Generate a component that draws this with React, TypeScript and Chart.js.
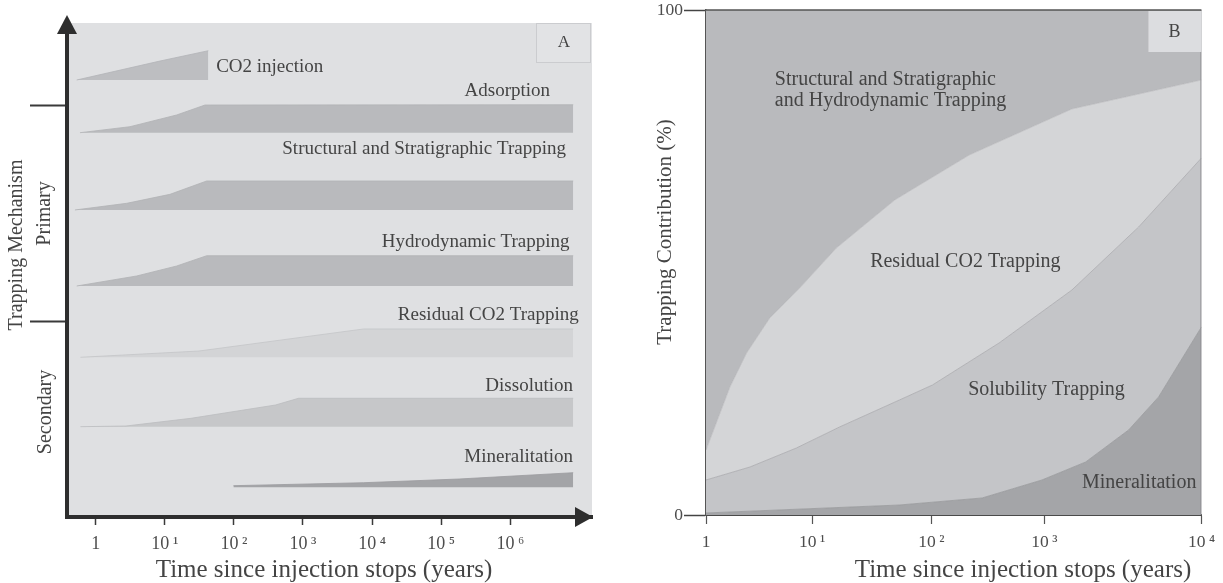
import { useEffect, useRef } from 'react';
import { Chart, registerables, LinearScale } from 'chart.js';

Chart.register(...registerables);

// ---------------- Panel A : trapping mechanisms through time ----------------
// x values are log10(years), y values are the vertical position (0-100) of each band
const A_DECADE_TICKS = [0, 1, 2, 3, 4, 5, 6];
const A_TICK_LABELS = ['1', '10\u2009\u00b9', '10\u2009\u00b2', '10\u2009\u00b3', '10\u2009\u2074', '10\u2009\u2075', '10\u2009\u2076'];
const A_SECTION_TICKS = [83.4, 39.5];

const CO2_X = [-0.275, 0.93, 1.63];
const CO2_Y = [88.46, 92.3, 94.39];
const CO2_BASE = 88.46;

const ADS_X = [-0.227, 0.496, 1.172, 1.582, 6.91];
const ADS_Y = [77.79, 79.01, 81.38, 83.4, 83.45];
const ADS_BASE = 77.79;

const STRUCT_X = [-0.3, 0.449, 1.075, 1.606, 6.91];
const STRUCT_Y = [62.15, 63.5, 65.32, 68.02, 68.02];
const STRUCT_BASE = 62.15;

const HYDRO_X = [-0.275, 0.593, 1.172, 1.606, 6.91];
const HYDRO_Y = [46.76, 48.79, 50.81, 52.89, 52.89];
const HYDRO_BASE = 46.76;

const RESID_X = [-0.221, 1.495, 3.043, 3.877, 6.91];
const RESID_Y = [32.33, 33.6, 36.5, 38.06, 38.06];
const RESID_BASE = 32.33;

const DISS_X = [-0.221, 0.438, 1.379, 2.602, 2.935, 6.91];
const DISS_Y = [18.28, 18.42, 19.98, 22.67, 24.03, 24.03];
const DISS_BASE = 18.28;

const MINA_X = [1.993, 3.877, 5.258, 6.91];
const MINA_Y = [6.34, 6.94, 7.69, 8.97];
const MINA_BASE = 6.01;

const A_X_MIN = -0.415;
const A_X_MAX = 7.182;

// ---------------- Panel B : trapping contribution (%) ----------------
const B_DECADES = [0, 1, 2, 3, 4];
const B_TICK_LABELS = ['1', '10\u2009\u00b9', '10\u2009\u00b2', '10\u2009\u00b3', '10\u2009\u2074'];
const B_Y_TICKS = [0, 100];
// relative spacing of the decades along the source's (non-uniform) time axis
const B_DECADE_FRACTION = [0, 0.214, 0.455, 0.683, 1];

const MINERAL_TOP_X = [0, 1.732, 2.449, 2.978, 3.263, 3.536, 3.727, 4];
const MINERAL_TOP_Y = [0.4, 1.98, 3.37, 6.93, 10.5, 16.83, 23.37, 37.23];

const SOLUBILITY_TOP_X = [0, 0.414, 0.853, 1.231, 1.732, 2.009, 2.599, 3.175, 3.6, 4];
const SOLUBILITY_TOP_Y = [6.93, 9.5, 13.27, 17.43, 22.77, 25.74, 34.06, 44.55, 57.03, 70.69];

const RESIDUAL_TOP_X = [0, 0.226, 0.383, 0.602, 0.884, 1.204, 1.693, 2.335, 3.175, 4];
const RESIDUAL_TOP_Y = [12.87, 25.35, 32.08, 39.01, 44.95, 52.87, 62.38, 71.29, 80.4, 86.14];

const STRUCTURAL_TOP_X = [0, 4];
const STRUCTURAL_TOP_Y = [100, 100];

// ---------------- annotations ----------------
const A_LABELS = [
  { text: 'CO2 injection', x: 1.743, y: 91.16, align: 'left' },
  { text: 'Adsorption', x: 6.575, y: 86.23, align: 'right' },
  { text: 'Structural and Stratigraphic Trapping', x: 6.806, y: 74.49, align: 'right' },
  { text: 'Hydrodynamic Trapping', x: 6.857, y: 55.67, align: 'right' },
  { text: 'Residual CO2 Trapping', x: 6.99, y: 40.89, align: 'right' },
  { text: 'Dissolution', x: 6.907, y: 26.52, align: 'right' },
  { text: 'Mineralitation', x: 6.907, y: 12.2, align: 'right' },
];
const B_LABELS = [
  { text: 'Structural and Stratigraphic', x: 0.649, y: 86.14, align: 'left' },
  { text: 'and Hydrodynamic Trapping', x: 0.649, y: 81.98, align: 'left' },
  { text: 'Residual CO2 Trapping', x: 2.3, y: 50.1, align: 'center' },
  { text: 'Solubility Trapping', x: 3.013, y: 24.75, align: 'center' },
  { text: 'Mineralitation', x: 3.968, y: 6.34, align: 'right' },
];

const FONT = "'Liberation Serif', 'Times New Roman', 'DejaVu Serif', serif";
const TEXT = '#444444';
const AXIS = '#2e2e2e';
const A_BG = '#dfe0e2';

const pts = (xs: number[], ys: number[]) => xs.map((x, i) => ({ x, y: ys[i] }));

function drawText(ctx: CanvasRenderingContext2D, text: string, x: number, y: number, size: number, align: CanvasTextAlign = 'center', rotate = 0) {
  ctx.save();
  ctx.translate(x, y);
  if (rotate) ctx.rotate(rotate);
  ctx.font = `${size}px ${FONT}`;
  ctx.fillStyle = TEXT;
  ctx.textAlign = align;
  ctx.textBaseline = 'middle';
  ctx.fillText(text, 0, 0);
  ctx.restore();
}

function tri(ctx: CanvasRenderingContext2D, p: number[][]) {
  ctx.beginPath();
  ctx.moveTo(p[0][0], p[0][1]);
  ctx.lineTo(p[1][0], p[1][1]);
  ctx.lineTo(p[2][0], p[2][1]);
  ctx.closePath();
  ctx.fill();
}

// piecewise-decade scale for panel B
function decadeToFraction(v: number): number {
  const f = B_DECADE_FRACTION;
  const n = f.length - 1;
  if (v <= 0) return v * f[1];
  if (v >= n) return 1 + (v - n) * (f[n] - f[n - 1]);
  const i = Math.floor(v);
  return f[i] + (v - i) * (f[i + 1] - f[i]);
}
function fractionToDecade(t: number): number {
  const f = B_DECADE_FRACTION;
  const n = f.length - 1;
  if (t <= 0) return t / f[1];
  if (t >= 1) return n + (t - 1) / (f[n] - f[n - 1]);
  let i = 0;
  while (i < n - 1 && t > f[i + 1]) i++;
  return i + (t - f[i]) / (f[i + 1] - f[i]);
}

class DecadeScale extends (LinearScale as any) {
  static id = 'decade';
  static defaults = (LinearScale as any).defaults;
  getPixelForValue(value: number) {
    if (value === null || value === undefined || isNaN(value)) return NaN;
    return (this as any).getPixelForDecimal(decadeToFraction(value));
  }
  getValueForPixel(pixel: number) {
    return fractionToDecade((this as any).getDecimalForPixel(pixel));
  }
}
Chart.register(DecadeScale as any);

const panelAPlugin = {
  id: 'panelA',
  beforeDraw(chart: any) {
    const { ctx, chartArea: ca } = chart;
    ctx.save();
    ctx.fillStyle = A_BG;
    ctx.fillRect(ca.left, ca.top, ca.right - ca.left, ca.bottom - ca.top);
    // "A" box
    ctx.fillStyle = '#e2e3e5';
    ctx.strokeStyle = '#cbcccf';
    ctx.lineWidth = 1;
    ctx.fillRect(ca.right - 55, ca.top, 55, 40);
    ctx.strokeRect(ca.right - 55.5, ca.top + 0.5, 54, 39);
    ctx.restore();
    drawText(ctx, 'A', ca.right - 28, ca.top + 20, 17);
  },
  afterDraw(chart: any) {
    const { ctx, chartArea: ca, scales } = chart;
    const xs = scales.x;
    const ys = scales.y;
    ctx.save();
    ctx.fillStyle = AXIS;
    tri(ctx, [[ca.left, ca.top - 8], [ca.left - 10, ca.top + 11], [ca.left + 10, ca.top + 11]]);
    tri(ctx, [[ca.right + 1, ca.bottom], [ca.right - 17, ca.bottom - 10], [ca.right - 17, ca.bottom + 10]]);
    ctx.restore();
    for (const l of A_LABELS) {
      drawText(ctx, l.text, xs.getPixelForValue(l.x), ys.getPixelForValue(l.y), 19, l.align as CanvasTextAlign);
    }
    drawText(ctx, 'Trapping Mechanism', 17, 245, 20, 'center', -Math.PI / 2);
    drawText(ctx, 'Primary', 45, ys.getPixelForValue((A_SECTION_TICKS[0] + A_SECTION_TICKS[1]) / 2), 20, 'center', -Math.PI / 2);
    drawText(ctx, 'Secondary', 46, 412, 20, 'center', -Math.PI / 2);
    drawText(ctx, 'Time since injection stops (years)', 324, 570, 25);
  },
};

const panelBPlugin = {
  id: 'panelB',
  afterDatasetsDraw(chart: any) {
    const { ctx, chartArea: ca } = chart;
    ctx.save();
    ctx.strokeStyle = '#8d8e91';
    ctx.lineWidth = 1;
    ctx.beginPath();
    ctx.moveTo(ca.right - 0.5, ca.top);
    ctx.lineTo(ca.right - 0.5, ca.bottom);
    ctx.stroke();
    ctx.strokeStyle = '#555';
    ctx.lineWidth = 1.5;
    ctx.beginPath();
    ctx.moveTo(ca.left, ca.top);
    ctx.lineTo(ca.right, ca.top);
    ctx.stroke();
    ctx.fillStyle = '#dcdde0';
    ctx.fillRect(ca.right - 53, ca.top + 1, 53, 41);
    ctx.restore();
    drawText(ctx, 'B', ca.right - 27, ca.top + 22, 18);
  },
  afterDraw(chart: any) {
    const { ctx, scales } = chart;
    const xs = scales.x;
    const ys = scales.y;
    for (const l of B_LABELS) {
      drawText(ctx, l.text, xs.getPixelForValue(l.x), ys.getPixelForValue(l.y), 20, l.align as CanvasTextAlign);
    }
    drawText(ctx, 'Trapping Contribution (%)', 65, 232, 21, 'center', -Math.PI / 2);
    drawText(ctx, 'Time since injection stops (years)', 423, 570, 25);
  },
};

function bandA(xs: number[], ys: number[], base: number, color: string, edge: string) {
  return {
    data: pts(xs, ys),
    fill: { value: base },
    backgroundColor: color,
    borderColor: edge,
    borderWidth: 0.8,
    pointRadius: 0,
    tension: 0,
  };
}

function regionB(xs: number[], ys: number[], fill: any, color: string, edge: string, width: number) {
  return {
    data: pts(xs, ys),
    fill,
    backgroundColor: color,
    borderColor: edge,
    borderWidth: width,
    pointRadius: 0,
    tension: 0,
  };
}

export default function App() {
  const refA = useRef<HTMLCanvasElement>(null);
  const refB = useRef<HTMLCanvasElement>(null);

  useEffect(() => {
    const chartA = new Chart(refA.current as HTMLCanvasElement, {
      type: 'line',
      data: {
        datasets: [
          bandA(CO2_X, CO2_Y, CO2_BASE, '#bdbec1', '#b3b4b7'),
          bandA(ADS_X, ADS_Y, ADS_BASE, '#b9babd', '#b1b2b5'),
          bandA(STRUCT_X, STRUCT_Y, STRUCT_BASE, '#b9babd', '#b1b2b5'),
          bandA(HYDRO_X, HYDRO_Y, HYDRO_BASE, '#b9babd', '#b1b2b5'),
          bandA(RESID_X, RESID_Y, RESID_BASE, '#d3d4d6', '#c4c5c8'),
          bandA(DISS_X, DISS_Y, DISS_BASE, '#c6c7c9', '#bbbcbf'),
          bandA(MINA_X, MINA_Y, MINA_BASE, '#a3a4a7', '#9a9b9e'),
        ] as any,
      },
      options: {
        responsive: false,
        animation: false,
        devicePixelRatio: 1,
        layout: { padding: { left: 0, top: 23, right: 8, bottom: 0 } },
        plugins: { legend: { display: false }, tooltip: { enabled: false } },
        scales: {
          x: {
            type: 'linear',
            min: A_X_MIN,
            max: A_X_MAX,
            afterBuildTicks: (s: any) => { s.ticks = A_DECADE_TICKS.map((v) => ({ value: v })); },
            afterFit: (s: any) => { s.height = 66; },
            border: { display: true, color: AXIS, width: 4 },
            grid: { drawOnChartArea: false, drawTicks: true, tickLength: 8, tickWidth: 1.5, tickColor: '#3a3a3a' },
            ticks: {
              autoSkip: false, maxRotation: 0, padding: 8, color: '#4d4d4d',
              font: { family: FONT, size: 18 },
              callback: (_v: any, i: number) => A_TICK_LABELS[i],
            },
          },
          y: {
            type: 'linear',
            min: 0,
            max: 100,
            afterBuildTicks: (s: any) => { s.ticks = A_SECTION_TICKS.map((v) => ({ value: v })); },
            afterFit: (s: any) => { s.width = 67; },
            border: { display: true, color: AXIS, width: 4 },
            grid: { drawOnChartArea: false, drawTicks: true, tickLength: 37, tickWidth: 2, tickColor: '#3a3a3a' },
            ticks: { display: false },
          },
        } as any,
      },
      plugins: [panelAPlugin],
    } as any);

    const chartB = new Chart(refB.current as HTMLCanvasElement, {
      type: 'line',
      data: {
        datasets: [
          regionB(MINERAL_TOP_X, MINERAL_TOP_Y, 'origin', '#a4a5a8', '#98999c', 0.8),
          regionB(SOLUBILITY_TOP_X, SOLUBILITY_TOP_Y, '-1', '#c4c5c8', '#a9aaad', 0.8),
          regionB(RESIDUAL_TOP_X, RESIDUAL_TOP_Y, '-1', '#d4d5d7', '#b3b4b7', 0.6),
          regionB(STRUCTURAL_TOP_X, STRUCTURAL_TOP_Y, '-1', '#b9babd', '#b9babd', 0),
        ] as any,
      },
      options: {
        responsive: false,
        animation: false,
        devicePixelRatio: 1,
        layout: { padding: { left: 0, top: 10, right: 20, bottom: 0 } },
        plugins: { legend: { display: false }, tooltip: { enabled: false } },
        scales: {
          x: {
            type: 'decade',
            min: 0,
            max: 4,
            afterBuildTicks: (s: any) => { s.ticks = B_DECADES.map((v) => ({ value: v })); },
            afterFit: (s: any) => { s.height = 68; },
            border: { display: true, color: '#4a4a4a', width: 2 },
            grid: { drawOnChartArea: false, drawTicks: true, tickLength: 9, tickWidth: 1.2, tickColor: '#555' },
            ticks: {
              autoSkip: false, maxRotation: 0, padding: 8, color: '#4d4d4d',
              font: { family: FONT, size: 17.5 },
              callback: (_v: any, i: number) => B_TICK_LABELS[i],
            },
          },
          y: {
            type: 'linear',
            min: 0,
            max: 100,
            afterBuildTicks: (s: any) => { s.ticks = B_Y_TICKS.map((v) => ({ value: v })); },
            afterFit: (s: any) => { s.width = 106; },
            border: { display: true, color: '#555', width: 1.5 },
            grid: { drawOnChartArea: false, drawTicks: true, tickLength: 22, tickWidth: 1.5, tickColor: '#444' },
            ticks: {
              padding: 1, color: '#4d4d4d',
              font: { family: FONT, size: 17.5, lineHeight: 1 },
              callback: (v: any) => String(v),
            },
          },
        } as any,
      },
      plugins: [panelBPlugin],
    } as any);

    return () => {
      chartA.destroy();
      chartB.destroy();
    };
  }, []);

  return (
    <div style={{ position: 'fixed', left: 0, top: 0, width: 1223, height: 583, background: '#ffffff', overflow: 'hidden' }}>
      <canvas ref={refA} width={600} height={583} style={{ position: 'absolute', left: 0, top: 0, width: 600, height: 583 }} />
      <canvas ref={refB} width={623} height={583} style={{ position: 'absolute', left: 600, top: 0, width: 623, height: 583 }} />
    </div>
  );
}
